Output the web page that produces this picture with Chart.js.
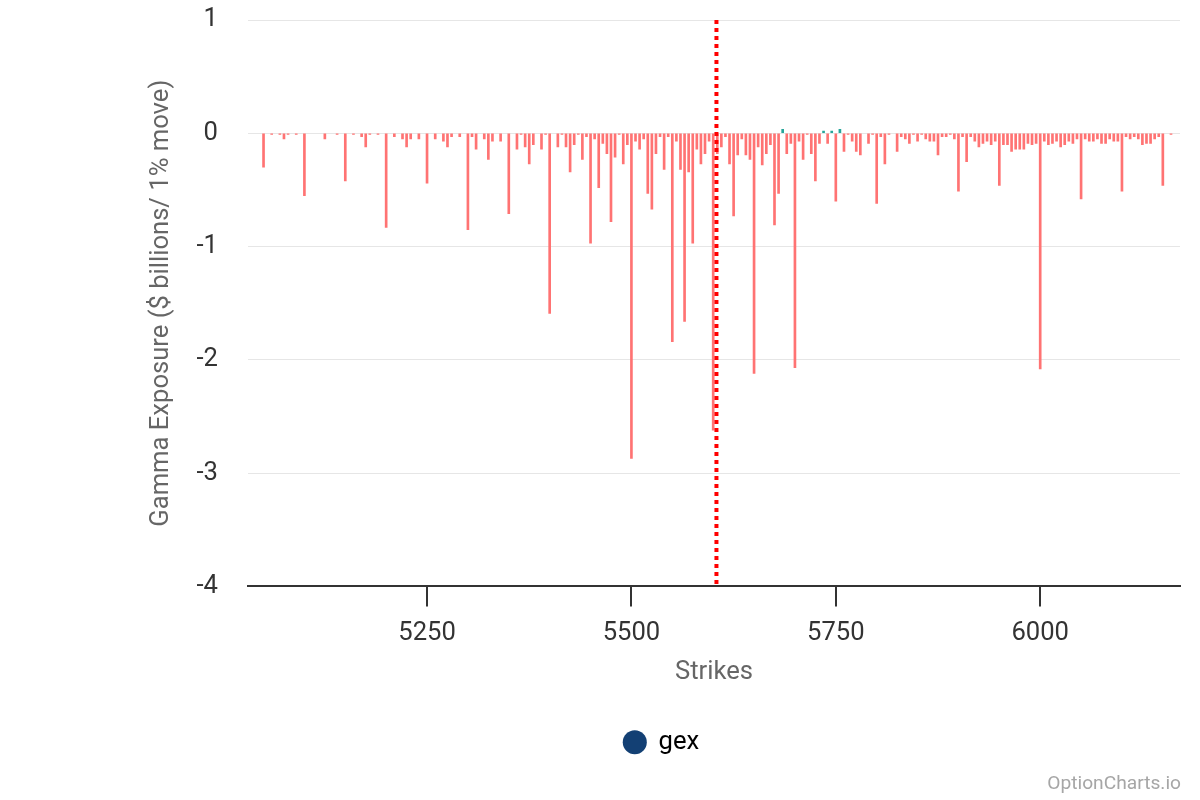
<!DOCTYPE html>
<html>
<head>
<meta charset="utf-8">
<script src="https://cdn.jsdelivr.net/npm/chart.js@4.4.1/dist/chart.umd.min.js"></script>
<style>
html,body{margin:0;padding:0;background:#fff;}
#wrap{width:1200px;height:800px;}
</style>
</head>
<body>
<div id="wrap"><canvas id="c" width="1200" height="800"></canvas></div>
<script>
// ---- data ----
const strikes = [
 5050,5060,5070,5075,5080,5090,5100,5125,5140,5150,5160,5170,5175,5180,5190,
 5200,5210,5220,5225,5230,5240,5250,5260,5270,5275,5280,5290,
 5300,5305,5310,5320,5325,5330,5340,5350,5360,5365,5370,5375,5380,5390,5395,
 5400,5410,5415,5420,5425,5430,5435,5440,5445,5450,5455,5460,5465,5470,5475,5480,5485,5490,5495,
 5500,5505,5510,5515,5520,5525,5530,5535,5540,5545,5550,5555,5560,5565,5570,5575,5580,5585,5590,5595,
 5600,5605,5610,5615,5620,5625,5630,5635,5640,5645,5650,5655,5660,5665,5670,5675,5680,5685,5690,5695,
 5700,5705,5710,5715,5720,5725,5730,5735,5740,5745,5750,5755,5760,5765,5770,5775,5780,5790,5795,
 5800,5805,5810,5815,5825,5830,5835,5840,5845,5850,5855,5860,5865,5870,5875,5880,5885,5890,5895,
 5900,5905,5910,5915,5920,5925,5930,5935,5940,5945,5950,5955,5960,5965,5970,5975,5980,5985,5990,5995,
 6000,6005,6010,6015,6020,6025,6030,6035,6040,6045,6050,6055,6060,6065,6070,6075,6080,6085,6090,6095,
 6100,6105,6110,6115,6120,6125,6130,6135,6140,6145,6150,6160
];
const gex = [
 -0.30,-0.01,-0.01,-0.05,-0.01,-0.01,-0.55,-0.05,-0.01,-0.42,-0.01,-0.03,-0.12,-0.01,-0.01,
 -0.83,-0.03,-0.05,-0.12,-0.05,-0.05,-0.44,-0.05,-0.07,-0.12,-0.03,-0.03,
 -0.85,-0.03,-0.14,-0.05,-0.23,-0.07,-0.07,-0.71,-0.14,-0.01,-0.12,-0.27,-0.10,-0.14,-0.01,
 -1.59,-0.12,-0.01,-0.12,-0.34,-0.10,-0.01,-0.23,-0.03,-0.97,-0.05,-0.48,-0.09,-0.18,-0.78,-0.21,-0.01,-0.27,-0.10,
 -2.87,-0.07,-0.14,-0.05,-0.53,-0.67,-0.18,-0.03,-0.32,-0.03,-1.84,-0.07,-0.32,-1.66,-0.34,-0.97,-0.14,-0.27,-0.18,-0.07,
 -2.62,-0.18,-0.12,-0.03,-0.27,-0.73,-0.19,-0.05,-0.19,-0.23,-2.12,-0.12,-0.28,-0.18,-0.10,-0.81,-0.53,0.035,-0.18,-0.09,
 -2.07,-0.07,-0.23,-0.01,-0.18,-0.42,-0.09,0.02,-0.09,0.02,-0.60,0.035,-0.16,-0.01,-0.07,-0.16,-0.19,-0.09,-0.01,
 -0.62,-0.03,-0.27,-0.01,-0.16,-0.03,-0.05,-0.09,-0.01,-0.07,-0.01,-0.05,-0.07,-0.07,-0.19,-0.03,-0.03,-0.01,-0.05,
 -0.51,-0.03,-0.25,-0.03,-0.07,-0.12,-0.09,-0.07,-0.10,-0.07,-0.46,-0.10,-0.10,-0.16,-0.14,-0.14,-0.14,-0.09,-0.10,-0.09,
 -2.08,-0.07,-0.10,-0.09,-0.07,-0.12,-0.10,-0.07,-0.09,-0.05,-0.58,-0.05,-0.07,-0.07,-0.05,-0.09,-0.09,-0.05,-0.07,-0.07,
 -0.51,-0.03,-0.05,-0.03,-0.05,-0.10,-0.09,-0.09,-0.05,-0.03,-0.46,-0.01
];
const xTickValues = [5250, 5500, 5750, 6000];
const xRange = [5031, 6171];
const yRange = [-4, 1];
const spotPrice = 5604;
const seriesName = 'gex';
const xTitle = 'Strikes';
const yTitle = 'Gamma Exposure ($ billions/ 1% move)';
const watermark = 'OptionCharts.io';

// ---- styles ----
const FONT = 'Roboto';
const NEG = '#ff7373';
const POS = '#26a69a';
const LEGEND_DOT = '#134074';

const points = strikes.map((s, i) => ({x: s, y: gex[i]}));

const spotLine = {
  id: 'spotLine',
  afterDatasetsDraw(chart) {
    const {ctx, chartArea, scales} = chart;
    const x = scales.x.getPixelForValue(spotPrice);
    ctx.save();
    ctx.strokeStyle = '#ff0000';
    ctx.lineWidth = 4;
    ctx.setLineDash([4, 4]);
    ctx.beginPath();
    ctx.moveTo(x, chartArea.top);
    ctx.lineTo(x, chartArea.bottom);
    ctx.stroke();
    ctx.restore();
  }
};
const mark = {
  id: 'mark',
  afterDraw(chart) {
    const {ctx} = chart;
    ctx.save();
    ctx.font = '19.2px ' + FONT;
    ctx.fillStyle = '#a6a6a6';
    ctx.textAlign = 'right';
    ctx.textBaseline = 'middle';
    ctx.fillText(watermark, 1181, 784);
    ctx.restore();
  }
};

new Chart(document.getElementById('c'), {
  type: 'bar',
  data: {
    datasets: [{
      label: seriesName,
      data: points,
      backgroundColor: (c) => (c.raw && c.raw.y >= 0 ? POS : NEG),
      borderWidth: 0,
      barThickness: 2,
      grouped: false
    }]
  },
  options: {
    responsive: false,
    animation: false,
    devicePixelRatio: 1,
    layout: {padding: {left: 143, right: 20, top: 20, bottom: 35}},
    scales: {
      x: {
        type: 'linear',
        min: xRange[0],
        max: xRange[1],
        offset: false,
        afterBuildTicks: (s) => { s.ticks = xTickValues.map(v => ({value: v})); },
        afterFit: (s) => { s.height = 133; },
        ticks: {font: {family: FONT, size: 25.6}, color: '#333', padding: 12, maxRotation: 0, autoSkip: false,
                callback: (v) => String(v)},
        grid: {offset: false, drawOnChartArea: false, tickLength: 20, color: '#333', lineWidth: 2},
        border: {color: '#333', width: 2},
        title: {display: true, text: xTitle, font: {family: FONT, size: 25.6}, color: '#666', padding: {top: 4, bottom: 31}}
      },
      y: {
        min: yRange[0],
        max: yRange[1],
        afterFit: (s) => { s.width = 105; },
        ticks: {stepSize: 1, font: {family: FONT, size: 25.6}, color: '#333', padding: 2},
        grid: {color: '#e6e6e6', drawTicks: true, tickLength: 28, tickColor: 'rgba(0,0,0,0)', lineWidth: 1},
        border: {display: false},
        title: {display: true, text: yTitle, font: {family: FONT, size: 25.6}, color: '#666', padding: {top: 3, bottom: 0}}
      }
    },
    plugins: {
      legend: {
        position: 'bottom',
        labels: {
          usePointStyle: true,
          boxWidth: 22,
          boxHeight: 17,
          padding: 10,
          color: '#333',
          font: {family: FONT, size: 25.6},
          generateLabels: () => [{text: seriesName, fillStyle: LEGEND_DOT, strokeStyle: LEGEND_DOT, lineWidth: 0, pointStyle: 'circle', datasetIndex: 0}]
        }
      },
      tooltip: {enabled: false}
    }
  },
  plugins: [spotLine, mark]
});
</script>
</body>
</html>
